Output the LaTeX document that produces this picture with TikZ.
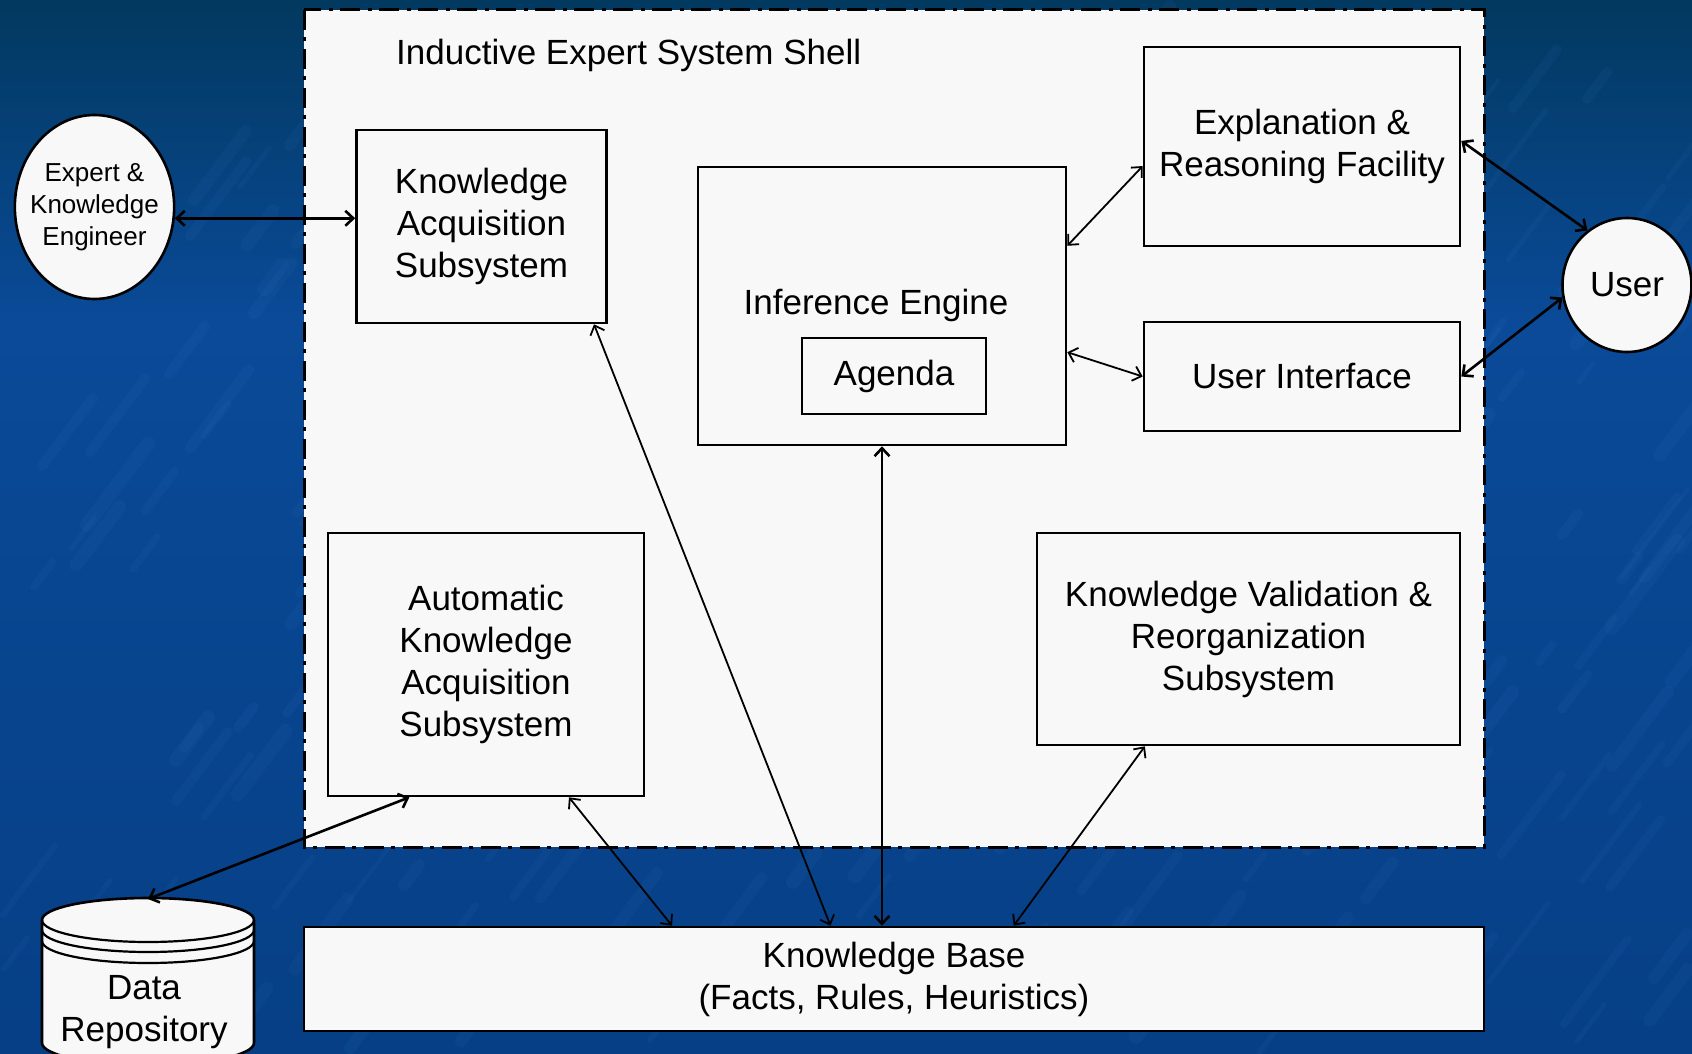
\documentclass[tikz,border=0pt]{standalone}
\usepackage{fontspec}
\usepackage{xcolor}
\usepackage{tikz}
\usetikzlibrary{positioning}
\usetikzlibrary{arrows.meta}
\usetikzlibrary{shapes.geometric}
\setmainfont{Liberation Sans}
\definecolor{darkteal}{HTML}{02395F}
\definecolor{midblue}{HTML}{0A4A98}
\definecolor{deepblue}{HTML}{063F85}
\definecolor{streak}{HTML}{3F80D0}
\definecolor{paper}{HTML}{F8F8F8}
\tikzset {
  % filled rectangle with centred text
  box/.style = {draw, fill=paper, line width=2.6pt, inner sep=0pt, align=center,
    font=\fontsize{35}{42}\selectfont},
  % people outside of the shell
  actor/.style = {box, ellipse},
  % the dash-dotted shell
  shell/.style = {draw, fill=paper, line width=3pt, dash pattern=on 20pt off 7pt on 4pt off 8pt},
  % plain text
  caption/.style = {inner sep=0pt, align=center, font=\fontsize{35}{42}\selectfont},
  % connectors
  link/.style = {<->, >={Straight Barb[length=8pt,width=15pt]}, line width=1.8pt},
  heavy/.style = {link, line width=2.6pt},
}
\begin{document}
\begin{tikzpicture}[x=1pt, y=-1pt]
      \useasboundingbox (0,0) rectangle (1692,1054);
      \clip (0,0) rectangle (1692,1054);

      % background
      \shade[top color=darkteal, bottom color=midblue] (0,0) rectangle (1692,320);
      \shade[top color=midblue, bottom color=deepblue] (0,320) rectangle (1692,1054);
      \pgfmathsetseed{11}
      \foreach \i in {1,...,260} {
        \pgfmathsetmacro{\sx}{random(0,1692)}
        \pgfmathsetmacro{\sy}{random(80,1054)}
        \pgfmathsetmacro{\sl}{random(20,110)}
        \pgfmathsetmacro{\sw}{random(4,14)}
        \draw[streak, opacity=.08, line width=\sw pt, line cap=round]
          (\sx,\sy) -- ++(\sl*.6,-\sl*.8);
      }

      % shell
      \path[shell] (304,10) rectangle (1484,847);
      \node[caption, anchor=west] (title) at (396,55) {Inductive Expert System Shell};

      % data repository
      \path[draw, fill=paper, line width=2.6pt]
        (42,920) -- (42,1043) arc[start angle=180, end angle=0, x radius=106, y radius=22]
        -- (254,920) arc[start angle=0, end angle=-180, x radius=106, y radius=22] -- cycle;
      \foreach \dy in {0,10,21}
        \draw[line width=2.2pt] (42,920+\dy) arc[start angle=180, end angle=0, x radius=106, y radius=22];
      \coordinate (repotop) at (148,899);
      \node[caption] (repo) at (144,1012) {Data\\Repository};

      % outer actors
      \node[actor, inner xsep=-8pt, minimum width=159pt, minimum height=184pt,
        font=\fontsize{26}{32}\selectfont] (expert) at (94.5,207) {Expert \&\\Knowledge\\Engineer};
      \node[actor, minimum width=129pt, minimum height=134pt] (user) at (1627,285) {User};

      % subsystems
      \node[box, minimum width=250pt, minimum height=193pt] (acq) at (481.5,226.5) {Knowledge\\Acquisition\\Subsystem};
      \node[box, minimum width=316pt, minimum height=263pt] (auto) at (486,664.5) {Automatic\\Knowledge\\Acquisition\\Subsystem};
      \node[box, minimum width=368pt, minimum height=278pt] (engine) at (882,306) {};
      \node[box, minimum width=184pt, minimum height=76pt] (agenda) at (894,376) {Agenda};
      \node[caption, above=15pt of agenda, xshift=-18pt] (enginelabel) {Inference Engine};
      \node[box, minimum width=316pt, minimum height=199pt] (explain) at (1302,146.5) {Explanation \&\\Reasoning Facility};
      \node[box, minimum width=316pt, minimum height=109pt] (ui) at (1302,376.5) {User Interface};
      \node[box, minimum width=423pt, minimum height=212pt] (valid) at (1248.5,639) {Knowledge Validation \&\\Reorganization\\Subsystem};
      \node[box, minimum width=1180pt, minimum height=104pt] (base) at (894,979) {Knowledge Base\\(Facts, Rules, Heuristics)};

      % connectors
      \draw[heavy] (expert.-8) -- (acq.west |- expert.-8);
      \draw[link] (acq.-41.5) -- (base.140.5);
      \draw[heavy] (engine.south) -- (engine.south |- base.north);
      \draw[heavy] (auto.240) -- (repotop);
      \draw[link] (auto.-58) -- ([xshift=-222pt]base.north);
      \draw[link] (valid.-134.6) -- (base.24);
      \draw[link] (engine.18.06) -- (explain.187.75);
      \draw[link] (engine.-14.9) -- (ui.west);
      \draw[heavy] (explain.2.36) -- (user.126);
      \draw[heavy] (ui.east) -- (user.191.3);
    \end{tikzpicture}
\end{document}
